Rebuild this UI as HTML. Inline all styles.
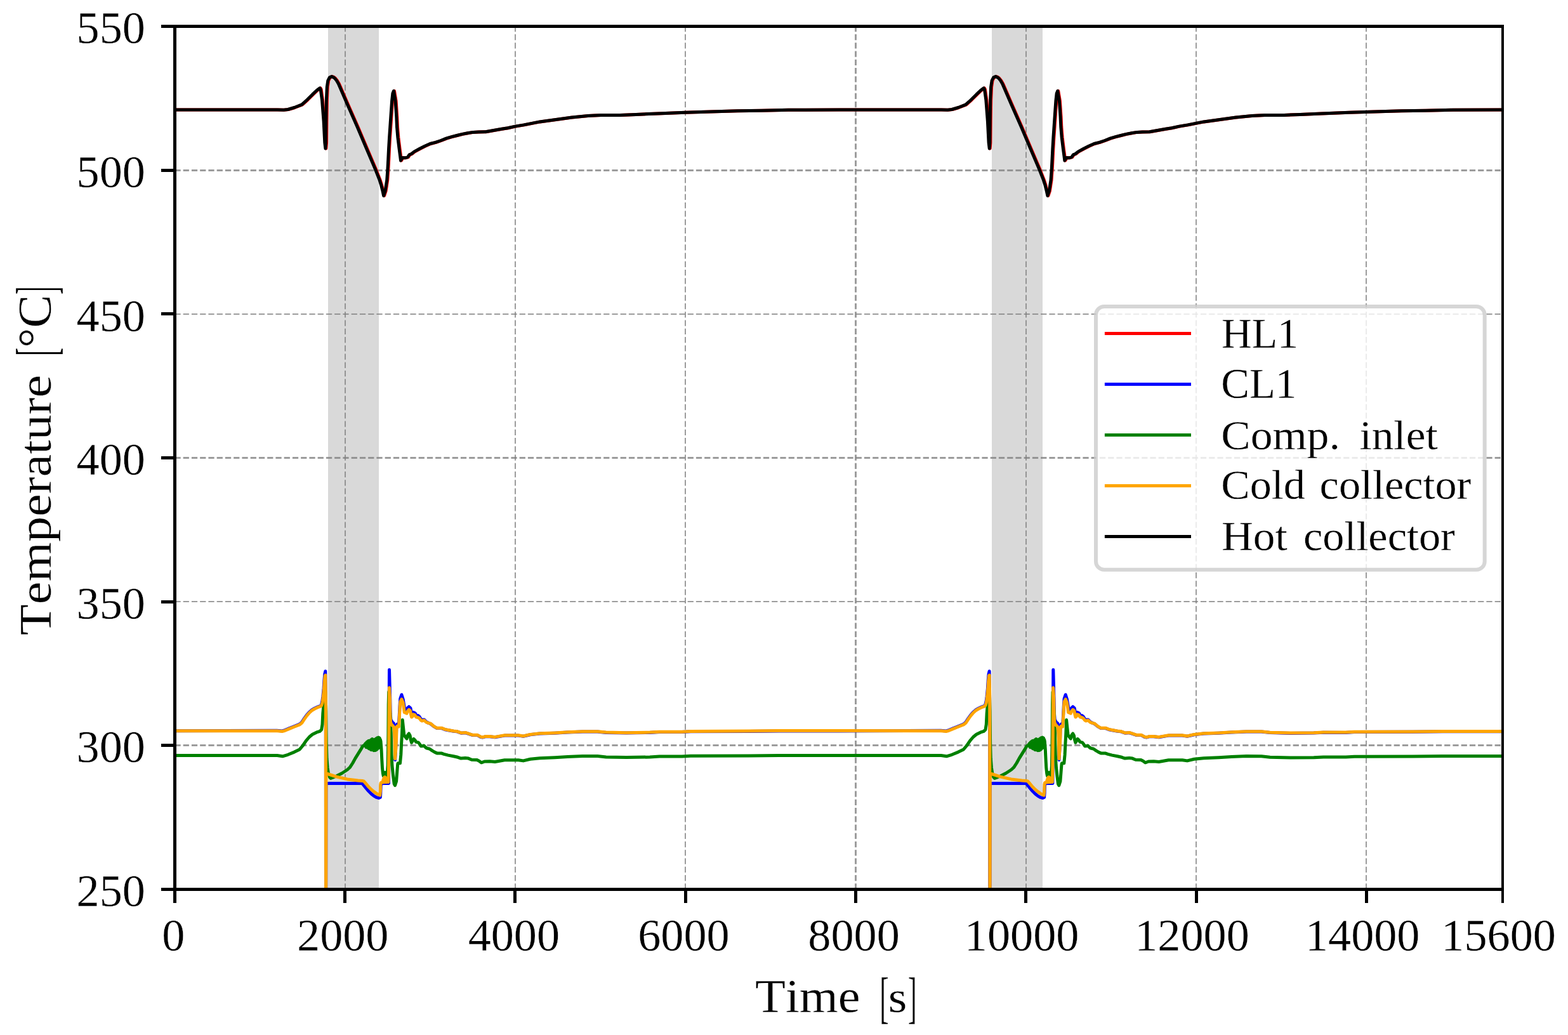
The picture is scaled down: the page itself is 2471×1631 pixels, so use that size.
<!DOCTYPE html>
<html lang="en">
<head>
<meta charset="utf-8">
<style>
html,body{margin:0;padding:0;background:#ffffff;}
body{width:2471px;height:1631px;overflow:hidden;}
svg{display:block;}
</style>
</head>
<body>
<svg width="2471" height="1631" viewBox="0 0 2471 1631">
<rect x="0" y="0" width="2471" height="1631" fill="#ffffff"/>
<defs><clipPath id="ax"><rect x="275.4" y="41.4" width="2092.6" height="1360.0"/></clipPath></defs>
<rect x="517" y="41.4" width="80" height="1360.0" fill="#808080" fill-opacity="0.3" shape-rendering="crispEdges"/>
<rect x="1563" y="41.4" width="80" height="1360.0" fill="#808080" fill-opacity="0.3" shape-rendering="crispEdges"/>
<g clip-path="url(#ax)" stroke="#808080" stroke-opacity="0.78" stroke-dasharray="9.25 4" fill="none">
<line x1="544.0" y1="1401.4" x2="544.0" y2="41.4" stroke-width="2"/>
<line x1="812.0" y1="1401.4" x2="812.0" y2="41.4" stroke-width="2"/>
<line x1="1080.0" y1="1401.4" x2="1080.0" y2="41.4" stroke-width="2"/>
<line x1="1348.5" y1="1401.4" x2="1348.5" y2="41.4" stroke-width="3"/>
<line x1="1617.0" y1="1401.4" x2="1617.0" y2="41.4" stroke-width="2"/>
<line x1="1885.0" y1="1401.4" x2="1885.0" y2="41.4" stroke-width="2"/>
<line x1="2153.0" y1="1401.4" x2="2153.0" y2="41.4" stroke-width="2"/>
<line x1="275.4" y1="268.5" x2="2368.0" y2="268.5" stroke-width="3"/>
<line x1="275.4" y1="495.0" x2="2368.0" y2="495.0" stroke-width="2"/>
<line x1="275.4" y1="721.5" x2="2368.0" y2="721.5" stroke-width="3"/>
<line x1="275.4" y1="948.0" x2="2368.0" y2="948.0" stroke-width="2"/>
<line x1="275.4" y1="1174.5" x2="2368.0" y2="1174.5" stroke-width="3"/>
</g>
<g clip-path="url(#ax)">
<polyline points="276.4,172.9 437.8,172.9 447.9,173.2 454.7,172.5 464.8,169.5 476.6,164.9 485.0,157.3 493.4,148.9 500.1,142.5 505.0,138.8 506.2,141.0 508.5,157.3 511.1,191.0 512.8,224.7 513.9,234.0 514.6,224.7 514.9,191.0 515.4,157.3 516.3,137.1 517.8,127.0 520.3,122.0 523.6,120.6 526.2,121.6 528.5,123.3 531.5,127.0 534.4,131.9 549.0,165.7 564.0,199.7 578.4,233.7 592.7,267.3 599.3,284.2 601.9,292.6 604.2,302.0 605.6,308.5 608.1,301.0 610.7,284.2 611.9,267.3 612.8,250.5 613.6,233.7 614.6,216.8 615.7,201.0 617.4,175.8 618.6,158.9 619.9,147.1 621.5,143.3 624.1,158.9 625.8,184.2 626.5,200.0 627.9,216.8 630.0,233.7 631.7,246.3 632.5,253.0 635.1,248.4 639.3,248.8 643.5,247.6 646.0,243.8 649.4,242.5 653.6,239.1 662.0,234.5 670.4,230.3 678.8,226.5 687.3,224.4 695.7,221.5 704.1,218.1 712.5,215.6 720.9,213.5 729.4,211.4 737.8,209.7 746.2,208.4 754.6,208.0 766.1,207.8 774.5,206.2 791.4,203.3 801.0,201.7 812.8,199.1 826.3,196.9 851.5,191.9 876.8,188.5 902.0,185.1 927.3,182.6 947.5,181.4 977.8,181.4 1003.0,180.4 1036.7,178.9 1080.5,177.2 1120.9,175.9 1163.0,174.7 1201.0,174.3 1243.0,173.3 1322.7,173.1 1484.1,172.9 1494.2,173.2 1501.0,172.5 1511.1,169.5 1522.9,164.9 1531.3,157.3 1539.7,148.9 1546.4,142.5 1551.3,138.8 1552.5,141.0 1554.8,157.3 1557.4,191.0 1559.1,224.7 1560.2,234.0 1560.9,224.7 1561.2,191.0 1561.7,157.3 1562.6,137.1 1564.1,127.0 1566.6,122.0 1569.9,120.6 1572.5,121.6 1574.8,123.3 1577.8,127.0 1580.7,131.9 1595.3,165.7 1610.3,199.7 1624.7,233.7 1639.0,267.3 1645.6,284.2 1648.2,292.6 1650.5,302.0 1651.9,308.5 1654.4,301.0 1657.0,284.2 1658.2,267.3 1659.1,250.5 1659.9,233.7 1660.9,216.8 1662.0,201.0 1663.7,175.8 1664.9,158.9 1666.2,147.1 1667.8,143.3 1670.4,158.9 1672.1,184.2 1672.8,200.0 1674.2,216.8 1676.3,233.7 1678.0,246.3 1678.8,253.0 1681.4,248.4 1685.6,248.8 1689.8,247.6 1692.3,243.8 1695.7,242.5 1699.9,239.1 1708.3,234.5 1716.7,230.3 1725.1,226.5 1733.6,224.4 1742.0,221.5 1750.4,218.1 1758.8,215.6 1767.2,213.5 1775.7,211.4 1784.1,209.7 1792.5,208.4 1800.9,208.0 1812.4,207.8 1820.8,206.2 1837.7,203.3 1847.3,201.7 1859.1,199.1 1872.6,196.9 1897.8,191.9 1923.1,188.5 1948.3,185.1 1973.6,182.6 1993.8,181.4 2024.1,181.4 2049.3,180.4 2083.0,178.9 2126.8,177.2 2167.2,175.9 2209.3,174.7 2247.3,174.3 2289.3,173.3 2369.0,173.1" fill="none" stroke="#ff0000" stroke-width="5.0" stroke-linejoin="round" stroke-linecap="butt"/>
<polyline points="275.4,1151.8 436.3,1151.3 444.8,1151.9 448.1,1151.0 454.9,1148.1 463.3,1144.7 471.7,1141.4 475.1,1138.8 478.4,1133.8 482.6,1127.9 486.8,1122.8 491.1,1119.0 495.3,1116.5 499.5,1114.4 504.5,1112.7 506.3,1111.0 507.6,1106.0 508.8,1098.0 510.1,1085.0 510.9,1072.0 511.8,1062.0 512.8,1057.7 513.3,1100.0 513.5,1420.0 513.8,1420.0 514.0,1234.6 570.9,1234.6 576.8,1241.8 581.0,1246.8 585.2,1251.0 589.4,1254.4 593.6,1256.7 597.0,1257.6 599.3,1256.5 599.8,1250.0 600.2,1238.0 601.2,1234.4 612.6,1234.4 612.9,1180.0 613.5,1055.6 614.7,1100.0 615.2,1125.0 615.9,1134.0 618.3,1138.3 620.6,1140.0 621.7,1149.4 622.3,1166.0 622.6,1197.5 623.6,1180.0 624.3,1163.0 624.8,1146.0 626.1,1141.0 628.4,1141.9 629.1,1130.0 630.0,1113.0 630.8,1101.0 632.9,1094.7 635.2,1102.0 636.5,1110.0 637.5,1115.8 638.9,1117.4 640.6,1119.1 642.3,1115.8 644.4,1113.7 646.9,1115.8 648.2,1122.5 649.4,1124.2 651.5,1122.5 654.1,1123.7 656.2,1127.5 658.7,1127.5 660.8,1129.2 663.3,1133.0 665.0,1134.5 668.4,1134.0 671.8,1137.5 675.1,1139.3 678.5,1140.5 683.5,1144.7 688.6,1147.6 696.2,1147.6 701.2,1149.7 707.9,1151.0 714.7,1152.3 719.7,1152.7 726.5,1155.2 734.0,1154.8 739.9,1156.9 745.0,1158.6 752.5,1158.6 757.6,1161.5 761.0,1161.9 765.2,1160.7 771.9,1160.8 780.0,1161.7 795.2,1159.1 817.0,1159.1 824.6,1160.3 835.6,1157.7 850.7,1156.1 874.3,1155.2 894.5,1154.0 918.0,1153.0 941.6,1153.0 955.1,1154.4 987.1,1155.0 1024.1,1154.4 1039.3,1153.5 1074.6,1153.5 1088.1,1152.7 1180.0,1152.4 1227.0,1151.9 1321.7,1151.9 1482.6,1151.3 1491.1,1151.9 1494.4,1151.0 1501.2,1148.1 1509.6,1144.7 1518.0,1141.4 1521.4,1138.8 1524.7,1133.8 1528.9,1127.9 1533.1,1122.8 1537.4,1119.0 1541.6,1116.5 1545.8,1114.4 1550.8,1112.7 1552.6,1111.0 1553.9,1106.0 1555.1,1098.0 1556.4,1085.0 1557.2,1072.0 1558.1,1062.0 1559.1,1057.7 1559.6,1100.0 1559.8,1420.0 1560.1,1420.0 1560.3,1234.6 1617.2,1234.6 1623.1,1241.8 1627.3,1246.8 1631.5,1251.0 1635.7,1254.4 1639.9,1256.7 1643.3,1257.6 1645.6,1256.5 1646.1,1250.0 1646.5,1238.0 1647.5,1234.4 1658.9,1234.4 1659.2,1180.0 1659.8,1055.6 1661.0,1100.0 1661.5,1125.0 1662.2,1134.0 1664.6,1138.3 1666.9,1140.0 1668.0,1149.4 1668.6,1166.0 1668.9,1197.5 1669.9,1180.0 1670.6,1163.0 1671.1,1146.0 1672.4,1141.0 1674.7,1141.9 1675.4,1130.0 1676.3,1113.0 1677.1,1101.0 1679.2,1094.7 1681.5,1102.0 1682.8,1110.0 1683.8,1115.8 1685.2,1117.4 1686.9,1119.1 1688.6,1115.8 1690.7,1113.7 1693.2,1115.8 1694.5,1122.5 1695.7,1124.2 1697.8,1122.5 1700.4,1123.7 1702.5,1127.5 1705.0,1127.5 1707.1,1129.2 1709.6,1133.0 1711.3,1134.5 1714.7,1134.0 1718.1,1137.5 1721.4,1139.3 1724.8,1140.5 1729.8,1144.7 1734.9,1147.6 1742.5,1147.6 1747.5,1149.7 1754.2,1151.0 1761.0,1152.3 1766.0,1152.7 1772.8,1155.2 1780.3,1154.8 1786.2,1156.9 1791.3,1158.6 1798.8,1158.6 1803.9,1161.5 1807.3,1161.9 1811.5,1160.7 1818.2,1160.8 1826.3,1161.7 1841.5,1159.1 1863.3,1159.1 1870.9,1160.3 1881.9,1157.7 1897.0,1156.1 1920.6,1155.2 1940.8,1154.0 1964.3,1153.0 1987.9,1153.1 2001.4,1154.6 2033.4,1155.4 2070.4,1155.1 2085.6,1154.3 2120.9,1154.4 2134.4,1153.6 2226.3,1153.3 2273.3,1152.8 2368.0,1152.8" fill="none" stroke="#0000ff" stroke-width="5.0" stroke-linejoin="round" stroke-linecap="butt"/>
<polyline points="275.4,1190.6 436.8,1190.6 445.3,1191.8 453.7,1189.3 463.8,1185.1 472.2,1180.9 477.2,1175.0 482.3,1167.4 487.3,1161.5 492.4,1157.3 499.1,1153.9 504.2,1152.3 506.7,1149.7 508.0,1141.3 508.8,1124.5 510.1,1110.3 511.5,1095.3 513.0,1090.3 513.8,1120.3 514.3,1170.3 515.0,1195.3 516.1,1209.3 517.6,1219.3 519.5,1224.8 521.2,1226.5 524.0,1225.5 530.5,1222.7 538.9,1218.5 547.3,1213.0 551.5,1209.2 555.8,1202.5 560.0,1194.9 564.2,1188.2 568.4,1181.4 571.8,1175.6 574.5,1174.1 575.0,1172.8 575.5,1175.4 575.9,1171.8 576.4,1176.5 576.8,1170.9 577.3,1177.7 577.7,1170.0 578.2,1177.7 578.6,1169.1 579.1,1177.6 579.5,1168.4 580.0,1178.3 580.4,1167.8 580.9,1179.5 581.3,1167.3 581.8,1179.9 582.2,1167.6 582.7,1180.1 583.1,1167.8 583.6,1180.5 584.0,1166.8 584.5,1181.4 584.9,1165.8 585.4,1181.8 585.8,1165.2 586.3,1181.5 586.7,1164.6 587.2,1181.4 587.6,1165.2 588.1,1182.1 588.5,1165.9 589.0,1182.7 589.4,1165.6 589.9,1182.6 590.3,1165.4 590.8,1182.6 591.2,1164.9 591.7,1182.5 592.1,1164.4 592.6,1182.1 593.0,1163.8 593.5,1181.3 593.9,1163.2 594.4,1180.6 594.8,1162.6 595.3,1179.8 595.7,1162.2 596.2,1178.9 596.6,1161.9 597.1,1177.6 597.5,1162.5 598.0,1175.9 598.4,1163.3 598.9,1172.6 599.3,1165.4 600.0,1168.2 601.0,1180.8 601.8,1197.6 602.5,1210.3 603.4,1218.7 604.2,1222.9 605.8,1217.3 606.5,1221.3 607.3,1217.3 608.1,1221.8 608.9,1217.3 609.7,1221.8 610.4,1217.3 611.2,1206.1 611.6,1180.8 611.9,1155.6 612.2,1110.3 612.7,1090.3 613.6,1100.3 615.2,1130.3 616.2,1155.3 617.0,1189.3 617.9,1206.1 619.6,1222.9 621.2,1235.5 622.5,1237.6 624.6,1231.3 625.9,1214.5 626.7,1204.4 627.1,1202.7 630.5,1202.7 631.8,1189.2 632.6,1172.4 633.5,1155.6 634.3,1134.5 635.6,1147.1 636.8,1158.1 638.9,1161.4 641.0,1164.0 642.7,1158.1 644.4,1156.0 646.1,1158.9 647.3,1165.7 648.6,1170.3 650.3,1167.3 652.0,1164.4 654.1,1166.5 655.8,1169.4 659.1,1169.9 661.2,1172.4 663.3,1175.8 665.0,1175.8 668.0,1174.9 670.9,1177.9 672.6,1179.1 676.8,1180.0 681.0,1182.9 685.2,1185.4 688.6,1186.9 695.3,1186.9 699.5,1188.4 706.3,1190.1 714.7,1191.7 721.4,1193.3 726.5,1195.1 733.2,1194.4 738.2,1195.1 743.3,1197.2 751.7,1197.6 755.1,1199.3 758.5,1201.8 763.5,1200.0 771.9,1199.7 780.0,1200.5 795.2,1197.7 817.0,1197.7 824.6,1198.9 835.6,1196.3 850.7,1194.7 874.3,1193.8 894.5,1192.6 918.0,1191.6 941.6,1191.6 955.1,1193.0 987.1,1193.6 1024.1,1193.0 1039.3,1192.1 1074.6,1192.1 1088.1,1191.3 1180.0,1191.0 1227.0,1190.5 1321.7,1190.5 1483.1,1190.6 1491.6,1191.8 1500.0,1189.3 1510.1,1185.1 1518.5,1180.9 1523.5,1175.0 1528.6,1167.4 1533.6,1161.5 1538.7,1157.3 1545.4,1153.9 1550.5,1152.3 1553.0,1149.7 1554.3,1141.3 1555.1,1124.5 1556.4,1110.3 1557.8,1095.3 1559.3,1090.3 1560.1,1120.3 1560.6,1170.3 1561.3,1195.3 1562.4,1209.3 1563.9,1219.3 1565.8,1224.8 1567.5,1226.5 1570.3,1225.5 1576.8,1222.7 1585.2,1218.5 1593.6,1213.0 1597.8,1209.2 1602.1,1202.5 1606.3,1194.9 1610.5,1188.2 1614.7,1181.4 1618.1,1175.6 1620.8,1174.1 1621.3,1172.8 1621.8,1175.4 1622.2,1171.8 1622.7,1176.5 1623.1,1170.9 1623.6,1177.7 1624.0,1170.0 1624.5,1177.7 1624.9,1169.1 1625.4,1177.6 1625.8,1168.4 1626.3,1178.3 1626.7,1167.8 1627.2,1179.5 1627.6,1167.3 1628.1,1179.9 1628.5,1167.6 1629.0,1180.1 1629.4,1167.8 1629.9,1180.5 1630.3,1166.8 1630.8,1181.4 1631.2,1165.8 1631.7,1181.8 1632.1,1165.2 1632.6,1181.5 1633.0,1164.6 1633.5,1181.4 1633.9,1165.2 1634.4,1182.1 1634.8,1165.9 1635.3,1182.7 1635.7,1165.6 1636.2,1182.6 1636.6,1165.4 1637.1,1182.6 1637.5,1164.9 1638.0,1182.5 1638.4,1164.4 1638.9,1182.1 1639.3,1163.8 1639.8,1181.3 1640.2,1163.2 1640.7,1180.6 1641.1,1162.6 1641.6,1179.8 1642.0,1162.2 1642.5,1178.9 1642.9,1161.9 1643.4,1177.6 1643.8,1162.5 1644.3,1175.9 1644.7,1163.3 1645.2,1172.6 1645.6,1165.4 1646.3,1168.2 1647.3,1180.8 1648.1,1197.6 1648.8,1210.3 1649.7,1218.7 1650.5,1222.9 1652.1,1217.3 1652.8,1221.3 1653.6,1217.3 1654.4,1221.8 1655.2,1217.3 1656.0,1221.8 1656.7,1217.3 1657.5,1206.1 1657.9,1180.8 1658.2,1155.6 1658.5,1110.3 1659.0,1090.3 1659.9,1100.3 1661.5,1130.3 1662.5,1155.3 1663.3,1189.3 1664.2,1206.1 1665.9,1222.9 1667.5,1235.5 1668.8,1237.6 1670.9,1231.3 1672.2,1214.5 1673.0,1204.4 1673.4,1202.7 1676.8,1202.7 1678.1,1189.2 1678.9,1172.4 1679.8,1155.6 1680.6,1134.5 1681.9,1147.1 1683.1,1158.1 1685.2,1161.4 1687.3,1164.0 1689.0,1158.1 1690.7,1156.0 1692.4,1158.9 1693.6,1165.7 1694.9,1170.3 1696.6,1167.3 1698.3,1164.4 1700.4,1166.5 1702.1,1169.4 1705.4,1169.9 1707.5,1172.4 1709.6,1175.8 1711.3,1175.8 1714.3,1174.9 1717.2,1177.9 1718.9,1179.1 1723.1,1180.0 1727.3,1182.9 1731.5,1185.4 1734.9,1186.9 1741.6,1186.9 1745.8,1188.4 1752.6,1190.1 1761.0,1191.7 1767.7,1193.3 1772.8,1195.1 1779.5,1194.4 1784.5,1195.1 1789.6,1197.2 1798.0,1197.6 1801.4,1199.3 1804.8,1201.8 1809.8,1200.0 1818.2,1199.7 1826.3,1200.5 1841.5,1197.7 1863.3,1197.7 1870.9,1198.9 1881.9,1196.3 1897.0,1194.7 1920.6,1193.8 1940.8,1192.6 1964.3,1191.6 1987.9,1191.7 2001.4,1193.2 2033.4,1194.0 2070.4,1193.7 2085.6,1192.9 2120.9,1193.0 2134.4,1192.2 2226.3,1191.9 2273.3,1191.4 2368.0,1191.4" fill="none" stroke="#008000" stroke-width="5.0" stroke-linejoin="round" stroke-linecap="butt"/>
<polyline points="275.4,1151.8 436.8,1151.8 445.3,1152.4 448.6,1151.5 455.4,1148.6 463.8,1145.2 472.2,1141.9 475.6,1139.3 478.9,1134.3 483.1,1128.4 487.3,1123.3 491.6,1119.5 495.8,1117.0 500.0,1114.9 505.0,1113.2 506.7,1111.5 508.0,1107.3 509.2,1098.9 510.5,1086.3 511.3,1073.7 512.2,1065.3 512.9,1064.0 513.4,1100.0 513.6,1420.0 513.8,1420.0 514.0,1219.0 516.2,1219.5 530.5,1224.1 547.3,1227.9 564.2,1230.0 570.9,1230.4 573.4,1231.2 576.8,1235.0 581.0,1240.1 585.2,1244.3 589.4,1247.6 593.6,1250.6 597.0,1252.5 598.7,1253.2 599.4,1247.0 599.7,1236.0 600.3,1233.4 602.8,1232.8 603.0,1231.8 603.5,1232.8 603.9,1228.7 604.4,1232.7 604.8,1226.6 605.2,1232.7 605.7,1225.1 606.1,1232.6 606.6,1224.6 607.0,1232.6 607.5,1225.2 608.0,1232.5 608.4,1225.9 608.9,1232.5 609.3,1227.5 609.8,1232.4 610.2,1230.2 610.6,1231.6 612.0,1232.3 612.4,1222.0 612.8,1180.0 613.4,1083.8 614.4,1100.0 614.9,1130.0 615.6,1138.5 617.5,1142.5 619.5,1144.2 620.8,1146.0 621.5,1153.6 622.1,1166.3 622.6,1195.7 623.8,1180.5 624.6,1163.7 625.0,1146.8 625.7,1144.5 628.4,1145.2 629.2,1132.6 630.1,1115.8 630.9,1105.7 633.0,1101.9 635.1,1107.3 636.4,1115.8 637.2,1122.5 638.9,1123.3 641.0,1124.2 642.3,1120.8 644.4,1118.3 646.5,1120.0 647.8,1126.7 648.6,1130.0 649.9,1129.2 651.5,1125.9 653.7,1126.7 655.8,1130.0 658.3,1130.5 660.8,1131.8 663.3,1135.1 665.0,1136.0 668.4,1135.1 671.8,1138.1 675.1,1139.3 678.5,1140.2 683.5,1144.4 688.6,1147.3 696.2,1147.3 701.2,1149.4 707.9,1150.7 714.7,1152.0 719.7,1152.4 726.5,1154.9 734.0,1154.5 739.9,1156.6 745.0,1158.3 752.5,1158.3 757.6,1161.2 761.0,1161.6 765.2,1160.4 771.9,1160.5 780.0,1161.4 795.2,1158.8 817.0,1158.8 824.6,1160.0 835.6,1157.4 850.7,1155.8 874.3,1154.9 894.5,1153.7 918.0,1152.7 941.6,1152.7 955.1,1154.1 987.1,1154.7 1024.1,1154.1 1039.3,1153.2 1074.6,1153.2 1088.1,1152.4 1180.0,1152.1 1227.0,1151.6 1321.7,1151.6 1483.1,1151.8 1491.6,1152.4 1494.9,1151.5 1501.7,1148.6 1510.1,1145.2 1518.5,1141.9 1521.9,1139.3 1525.2,1134.3 1529.4,1128.4 1533.6,1123.3 1537.9,1119.5 1542.1,1117.0 1546.3,1114.9 1551.3,1113.2 1553.0,1111.5 1554.3,1107.3 1555.5,1098.9 1556.8,1086.3 1557.6,1073.7 1558.5,1065.3 1559.2,1064.0 1559.7,1100.0 1559.9,1420.0 1560.1,1420.0 1560.3,1219.0 1562.5,1219.5 1576.8,1224.1 1593.6,1227.9 1610.5,1230.0 1617.2,1230.4 1619.7,1231.2 1623.1,1235.0 1627.3,1240.1 1631.5,1244.3 1635.7,1247.6 1639.9,1250.6 1643.3,1252.5 1645.0,1253.2 1645.7,1247.0 1646.0,1236.0 1646.6,1233.4 1649.1,1232.8 1649.3,1231.8 1649.8,1232.8 1650.2,1228.7 1650.7,1232.7 1651.1,1226.6 1651.5,1232.7 1652.0,1225.1 1652.4,1232.6 1652.9,1224.6 1653.3,1232.6 1653.8,1225.2 1654.2,1232.5 1654.7,1225.9 1655.2,1232.5 1655.6,1227.5 1656.0,1232.4 1656.5,1230.2 1656.9,1231.6 1658.3,1232.3 1658.7,1222.0 1659.1,1180.0 1659.7,1083.8 1660.7,1100.0 1661.2,1130.0 1661.9,1138.5 1663.8,1142.5 1665.8,1144.2 1667.1,1146.0 1667.8,1153.6 1668.4,1166.3 1668.9,1195.7 1670.1,1180.5 1670.9,1163.7 1671.3,1146.8 1672.0,1144.5 1674.7,1145.2 1675.5,1132.6 1676.4,1115.8 1677.2,1105.7 1679.3,1101.9 1681.4,1107.3 1682.7,1115.8 1683.5,1122.5 1685.2,1123.3 1687.3,1124.2 1688.6,1120.8 1690.7,1118.3 1692.8,1120.0 1694.1,1126.7 1694.9,1130.0 1696.2,1129.2 1697.8,1125.9 1700.0,1126.7 1702.1,1130.0 1704.6,1130.5 1707.1,1131.8 1709.6,1135.1 1711.3,1136.0 1714.7,1135.1 1718.1,1138.1 1721.4,1139.3 1724.8,1140.2 1729.8,1144.4 1734.9,1147.3 1742.5,1147.3 1747.5,1149.4 1754.2,1150.7 1761.0,1152.0 1766.0,1152.4 1772.8,1154.9 1780.3,1154.5 1786.2,1156.6 1791.3,1158.3 1798.8,1158.3 1803.9,1161.2 1807.3,1161.6 1811.5,1160.4 1818.2,1160.5 1826.3,1161.4 1841.5,1158.8 1863.3,1158.8 1870.9,1160.0 1881.9,1157.4 1897.0,1155.8 1920.6,1154.9 1940.8,1153.7 1964.3,1152.7 1987.9,1152.8 2001.4,1154.3 2033.4,1155.1 2070.4,1154.8 2085.6,1154.0 2120.9,1154.1 2134.4,1153.3 2226.3,1153.0 2273.3,1152.5 2368.0,1152.5" fill="none" stroke="#ffa500" stroke-width="5.0" stroke-linejoin="round" stroke-linecap="butt"/>
<polyline points="275.4,172.9 436.8,172.9 446.9,173.2 453.7,172.5 463.8,169.5 475.6,164.9 484.0,157.3 492.4,148.9 499.1,142.5 504.0,138.8 505.2,141.0 507.5,157.3 510.1,191.0 511.8,224.7 512.9,234.0 513.6,224.7 513.9,191.0 514.4,157.3 515.3,137.1 516.8,127.0 519.3,122.0 522.6,120.6 525.2,121.6 527.5,123.3 530.5,127.0 533.4,131.9 548.0,165.7 563.0,199.7 577.4,233.7 591.7,267.3 598.3,284.2 600.9,292.6 603.2,302.0 604.6,308.5 607.1,301.0 609.7,284.2 610.9,267.3 611.8,250.5 612.6,233.7 613.6,216.8 614.7,201.0 616.4,175.8 617.6,158.9 618.9,147.1 620.5,143.3 623.1,158.9 624.8,184.2 625.5,200.0 626.9,216.8 629.0,233.7 630.7,246.3 631.5,253.0 634.1,248.4 638.3,248.8 642.5,247.6 645.0,243.8 648.4,242.5 652.6,239.1 661.0,234.5 669.4,230.3 677.8,226.5 686.3,224.4 694.7,221.5 703.1,218.1 711.5,215.6 719.9,213.5 728.4,211.4 736.8,209.7 745.2,208.4 753.6,208.0 765.1,207.8 773.5,206.2 790.4,203.3 800.0,201.7 811.8,199.1 825.3,196.9 850.5,191.9 875.8,188.5 901.0,185.1 926.3,182.6 946.5,181.4 976.8,181.4 1002.0,180.4 1035.7,178.9 1079.5,177.2 1119.9,175.9 1162.0,174.7 1200.0,174.3 1242.0,173.3 1321.7,173.1 1483.1,172.9 1493.2,173.2 1500.0,172.5 1510.1,169.5 1521.9,164.9 1530.3,157.3 1538.7,148.9 1545.4,142.5 1550.3,138.8 1551.5,141.0 1553.8,157.3 1556.4,191.0 1558.1,224.7 1559.2,234.0 1559.9,224.7 1560.2,191.0 1560.7,157.3 1561.6,137.1 1563.1,127.0 1565.6,122.0 1568.9,120.6 1571.5,121.6 1573.8,123.3 1576.8,127.0 1579.7,131.9 1594.3,165.7 1609.3,199.7 1623.7,233.7 1638.0,267.3 1644.6,284.2 1647.2,292.6 1649.5,302.0 1650.9,308.5 1653.4,301.0 1656.0,284.2 1657.2,267.3 1658.1,250.5 1658.9,233.7 1659.9,216.8 1661.0,201.0 1662.7,175.8 1663.9,158.9 1665.2,147.1 1666.8,143.3 1669.4,158.9 1671.1,184.2 1671.8,200.0 1673.2,216.8 1675.3,233.7 1677.0,246.3 1677.8,253.0 1680.4,248.4 1684.6,248.8 1688.8,247.6 1691.3,243.8 1694.7,242.5 1698.9,239.1 1707.3,234.5 1715.7,230.3 1724.1,226.5 1732.6,224.4 1741.0,221.5 1749.4,218.1 1757.8,215.6 1766.2,213.5 1774.7,211.4 1783.1,209.7 1791.5,208.4 1799.9,208.0 1811.4,207.8 1819.8,206.2 1836.7,203.3 1846.3,201.7 1858.1,199.1 1871.6,196.9 1896.8,191.9 1922.1,188.5 1947.3,185.1 1972.6,182.6 1992.8,181.4 2023.1,181.4 2048.3,180.4 2082.0,178.9 2125.8,177.2 2166.2,175.9 2208.3,174.7 2246.3,174.3 2288.3,173.3 2368.0,173.1" fill="none" stroke="#000000" stroke-width="5.0" stroke-linejoin="round" stroke-linecap="butt"/>
</g>
<g fill="#000" shape-rendering="crispEdges">
<rect x="273" y="1399" width="5" height="24"/>
<rect x="541" y="1399" width="5" height="24"/>
<rect x="809" y="1399" width="5" height="24"/>
<rect x="1078" y="1399" width="5" height="24"/>
<rect x="1346" y="1399" width="5" height="24"/>
<rect x="1614" y="1399" width="5" height="24"/>
<rect x="1883" y="1399" width="5" height="24"/>
<rect x="2151" y="1399" width="5" height="24"/>
<rect x="2366" y="1399" width="4" height="24"/>
<rect x="254" y="39" width="24" height="5"/>
<rect x="254" y="266" width="24" height="5"/>
<rect x="254" y="492" width="24" height="5"/>
<rect x="254" y="719" width="24" height="5"/>
<rect x="254" y="946" width="24" height="5"/>
<rect x="254" y="1172" width="24" height="5"/>
<rect x="254" y="1399" width="24" height="5"/>
<rect x="273" y="39" width="5" height="1365"/>
<rect x="2366" y="39" width="4" height="1365"/>
<rect x="273" y="39" width="2097" height="5"/>
<rect x="273" y="1399" width="2097" height="5"/>
</g>
<text font-family="'Liberation Serif','DejaVu Serif',serif" fill="#000" stroke="#ffffff" stroke-width="0.3" style="font-kerning:none" xml:space="preserve" x="255.15" y="1498.30" font-size="72.7" textLength="36.10" lengthAdjust="spacingAndGlyphs">0</text>
<text font-family="'Liberation Serif','DejaVu Serif',serif" fill="#000" stroke="#ffffff" stroke-width="0.3" style="font-kerning:none" xml:space="preserve" x="468.05" y="1498.30" font-size="72.7" textLength="144.40" lengthAdjust="spacingAndGlyphs">2000</text>
<text font-family="'Liberation Serif','DejaVu Serif',serif" fill="#000" stroke="#ffffff" stroke-width="0.3" style="font-kerning:none" xml:space="preserve" x="737.65" y="1498.30" font-size="72.7" textLength="144.40" lengthAdjust="spacingAndGlyphs">4000</text>
<text font-family="'Liberation Serif','DejaVu Serif',serif" fill="#000" stroke="#ffffff" stroke-width="0.3" style="font-kerning:none" xml:space="preserve" x="1005.25" y="1498.30" font-size="72.7" textLength="144.40" lengthAdjust="spacingAndGlyphs">6000</text>
<text font-family="'Liberation Serif','DejaVu Serif',serif" fill="#000" stroke="#ffffff" stroke-width="0.3" style="font-kerning:none" xml:space="preserve" x="1273.35" y="1498.30" font-size="72.7" textLength="144.40" lengthAdjust="spacingAndGlyphs">8000</text>
<text font-family="'Liberation Serif','DejaVu Serif',serif" fill="#000" stroke="#ffffff" stroke-width="0.3" style="font-kerning:none" xml:space="preserve" x="1519.85" y="1498.30" font-size="72.7" textLength="180.50" lengthAdjust="spacingAndGlyphs">10000</text>
<text font-family="'Liberation Serif','DejaVu Serif',serif" fill="#000" stroke="#ffffff" stroke-width="0.3" style="font-kerning:none" xml:space="preserve" x="1788.25" y="1498.30" font-size="72.7" textLength="180.50" lengthAdjust="spacingAndGlyphs">12000</text>
<text font-family="'Liberation Serif','DejaVu Serif',serif" fill="#000" stroke="#ffffff" stroke-width="0.3" style="font-kerning:none" xml:space="preserve" x="2056.95" y="1498.30" font-size="72.7" textLength="180.50" lengthAdjust="spacingAndGlyphs">14000</text>
<text font-family="'Liberation Serif','DejaVu Serif',serif" fill="#000" stroke="#ffffff" stroke-width="0.3" style="font-kerning:none" xml:space="preserve" x="2271.35" y="1498.30" font-size="72.7" textLength="180.50" lengthAdjust="spacingAndGlyphs">15600</text>
<text font-family="'Liberation Serif','DejaVu Serif',serif" fill="#000" stroke="#ffffff" stroke-width="0.3" style="font-kerning:none" xml:space="preserve" x="120.60" y="1428.40" font-size="72.7" textLength="108.30" lengthAdjust="spacingAndGlyphs">250</text>
<text font-family="'Liberation Serif','DejaVu Serif',serif" fill="#000" stroke="#ffffff" stroke-width="0.3" style="font-kerning:none" xml:space="preserve" x="120.60" y="1201.40" font-size="72.7" textLength="108.30" lengthAdjust="spacingAndGlyphs">300</text>
<text font-family="'Liberation Serif','DejaVu Serif',serif" fill="#000" stroke="#ffffff" stroke-width="0.3" style="font-kerning:none" xml:space="preserve" x="120.60" y="974.90" font-size="72.7" textLength="108.30" lengthAdjust="spacingAndGlyphs">350</text>
<text font-family="'Liberation Serif','DejaVu Serif',serif" fill="#000" stroke="#ffffff" stroke-width="0.3" style="font-kerning:none" xml:space="preserve" x="120.60" y="748.40" font-size="72.7" textLength="108.30" lengthAdjust="spacingAndGlyphs">400</text>
<text font-family="'Liberation Serif','DejaVu Serif',serif" fill="#000" stroke="#ffffff" stroke-width="0.3" style="font-kerning:none" xml:space="preserve" x="120.60" y="521.90" font-size="72.7" textLength="108.30" lengthAdjust="spacingAndGlyphs">450</text>
<text font-family="'Liberation Serif','DejaVu Serif',serif" fill="#000" stroke="#ffffff" stroke-width="0.3" style="font-kerning:none" xml:space="preserve" x="120.60" y="295.40" font-size="72.7" textLength="108.30" lengthAdjust="spacingAndGlyphs">500</text>
<text font-family="'Liberation Serif','DejaVu Serif',serif" fill="#000" stroke="#ffffff" stroke-width="0.3" style="font-kerning:none" xml:space="preserve" x="120.60" y="68.40" font-size="72.7" textLength="108.30" lengthAdjust="spacingAndGlyphs">550</text>
<text font-family="'Liberation Serif','DejaVu Serif',serif" fill="#000" stroke="#ffffff" stroke-width="0.3" style="font-kerning:none" xml:space="preserve" y="1595.00"><tspan x="1190.09" y="1595.00" font-size="73.50" textLength="165.55" lengthAdjust="spacingAndGlyphs">Time</tspan> <tspan x="1386.25" y="1601.50" font-size="88.00" textLength="14.31" lengthAdjust="spacingAndGlyphs">[</tspan><tspan x="1399.86" y="1595.00" font-size="70.50" textLength="29.56" lengthAdjust="spacingAndGlyphs">s</tspan><tspan x="1430.92" y="1601.50" font-size="88.00" textLength="13.42" lengthAdjust="spacingAndGlyphs">]</tspan></text>
<g transform="translate(80.2,0) rotate(-90)"><text font-family="'Liberation Serif','DejaVu Serif',serif" fill="#000" stroke="#ffffff" stroke-width="0.3" style="font-kerning:none" xml:space="preserve" y="0"><tspan x="-1001.34" y="0.00" font-size="72.50" textLength="410.42" lengthAdjust="spacingAndGlyphs">Temperature</tspan> <tspan x="-561.12" y="6.50" font-size="88.00" textLength="13.27" lengthAdjust="spacingAndGlyphs">[</tspan><tspan x="-547.95" y="0.00" font-size="75.00" textLength="83.51" lengthAdjust="spacingAndGlyphs">°C</tspan><tspan x="-464.34" y="6.50" font-size="88.00" textLength="13.12" lengthAdjust="spacingAndGlyphs">]</tspan></text></g>
<rect x="1727.0" y="483.1" width="612.7" height="414.7" rx="13" ry="13" fill="#ffffff" fill-opacity="0.8" stroke="#cccccc" stroke-opacity="0.8" stroke-width="6"/>
<line x1="1740.9" y1="525.4" x2="1877.0" y2="525.4" stroke="#ff0000" stroke-width="5.0"/>
<text font-family="'Liberation Serif','DejaVu Serif',serif" fill="#000" stroke="#ffffff" stroke-width="0.3" style="font-kerning:none" xml:space="preserve" y="548.10"><tspan x="1925.02" y="548.10" font-size="68.30" textLength="121.13" lengthAdjust="spacingAndGlyphs">HL1</tspan></text>
<line x1="1740.9" y1="605.4" x2="1877.0" y2="605.4" stroke="#0000ff" stroke-width="5.0"/>
<text font-family="'Liberation Serif','DejaVu Serif',serif" fill="#000" stroke="#ffffff" stroke-width="0.3" style="font-kerning:none" xml:space="preserve" y="626.70"><tspan x="1924.32" y="626.70" font-size="68.30" textLength="118.97" lengthAdjust="spacingAndGlyphs">CL1</tspan></text>
<line x1="1740.9" y1="685.4" x2="1877.0" y2="685.4" stroke="#008000" stroke-width="5.0"/>
<text font-family="'Liberation Serif','DejaVu Serif',serif" fill="#000" stroke="#ffffff" stroke-width="0.3" style="font-kerning:none" xml:space="preserve" y="707.90"><tspan x="1924.22" y="707.90" font-size="66.00" textLength="187.60" lengthAdjust="spacingAndGlyphs">Comp.</tspan> <tspan x="2142.41" y="707.90" font-size="64.50" textLength="123.30" lengthAdjust="spacingAndGlyphs">inlet</tspan></text>
<line x1="1740.9" y1="765.4" x2="1877.0" y2="765.4" stroke="#ffa500" stroke-width="5.0"/>
<text font-family="'Liberation Serif','DejaVu Serif',serif" fill="#000" stroke="#ffffff" stroke-width="0.3" style="font-kerning:none" xml:space="preserve" y="786.30"><tspan x="1924.27" y="786.30" font-size="66.00" textLength="132.51" lengthAdjust="spacingAndGlyphs">Cold</tspan> <tspan x="2079.60" y="786.30" font-size="64.50" textLength="238.75" lengthAdjust="spacingAndGlyphs">collector</tspan></text>
<line x1="1740.9" y1="845.4" x2="1877.0" y2="845.4" stroke="#000000" stroke-width="5.0"/>
<text font-family="'Liberation Serif','DejaVu Serif',serif" fill="#000" stroke="#ffffff" stroke-width="0.3" style="font-kerning:none" xml:space="preserve" y="866.80"><tspan x="1924.93" y="866.80" font-size="66.00" textLength="103.74" lengthAdjust="spacingAndGlyphs">Hot</tspan> <tspan x="2054.00" y="866.80" font-size="64.50" textLength="238.75" lengthAdjust="spacingAndGlyphs">collector</tspan></text>
</svg>
</body>
</html>
